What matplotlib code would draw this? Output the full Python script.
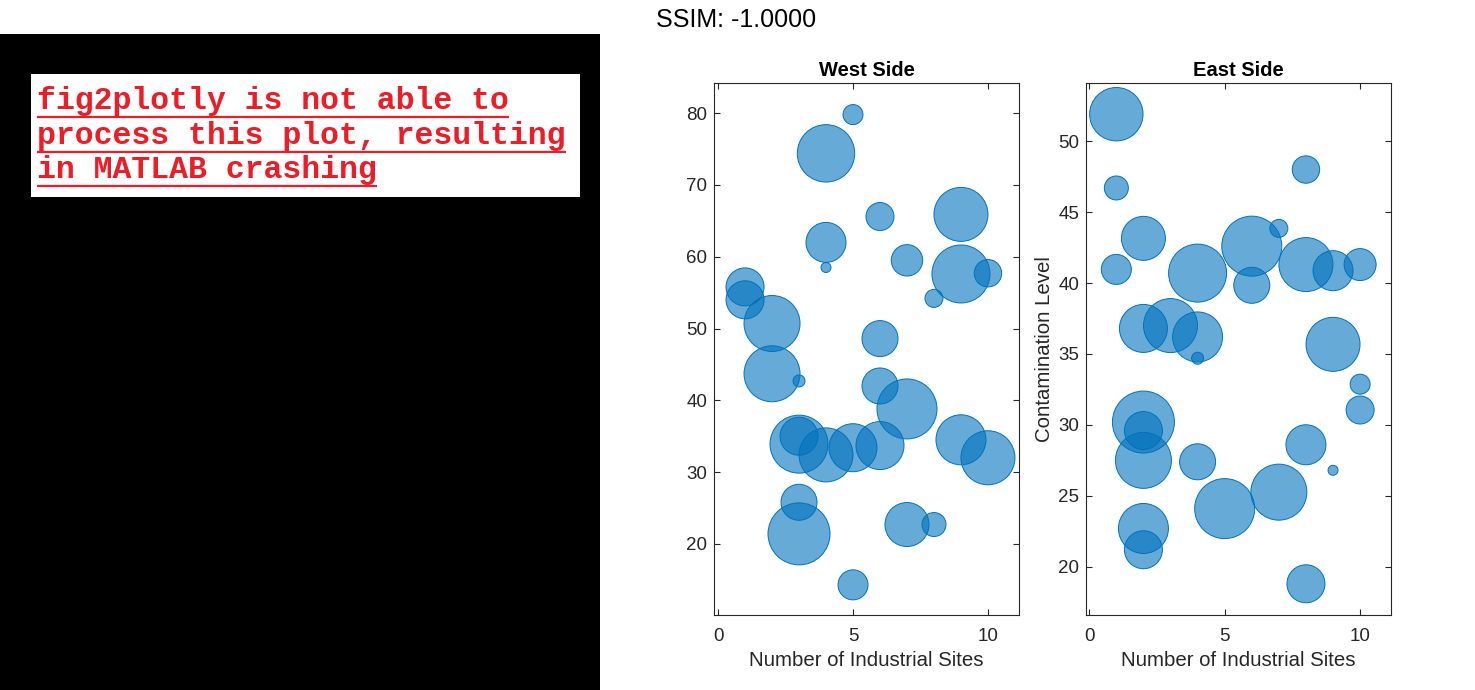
import matplotlib
matplotlib.use("Agg")
import matplotlib.pyplot as plt
from matplotlib.patches import Rectangle
import numpy as np

plt.rcParams['font.family'] = ['Liberation Sans', 'DejaVu Sans']

# ---------------- data ----------------
west_sites = [5, 4, 6, 9, 4, 4, 7, 9, 10, 8, 1, 1, 2, 6, 2, 3, 6, 7, 3, 3, 4, 5, 6, 9, 10, 3, 3, 7, 8, 5]
west_level = [79.8, 74.4, 65.6, 65.9, 62.0, 58.5, 59.5, 57.6, 57.7, 54.2, 55.8, 54.0, 50.7, 48.6, 43.7,
              42.7, 42.0, 38.8, 33.9, 35.0, 32.4, 33.4, 33.7, 34.5, 32.0, 25.8, 21.4, 22.7, 22.7, 14.3]
west_size = [10, 28.7, 14, 27, 20, 5, 15.7, 29, 13.7, 9, 19, 19, 28, 18, 28,
             6, 18, 30, 29, 19, 27, 24, 24, 25, 27, 18, 31, 22, 12, 15]

east_sites = [1, 1, 8, 2, 6, 7, 1, 4, 6, 8, 9, 10, 2, 3, 4, 9, 4, 10, 10, 2, 2, 2, 4, 8, 9, 7, 5, 2, 2, 8]
east_level = [51.9, 46.7, 48.0, 43.15, 42.6, 43.85, 40.96, 40.7, 39.84, 41.3, 40.87, 41.3, 36.8, 37.0, 36.2,
              35.68, 34.7, 32.87, 31.05, 30.2, 29.6, 27.5, 27.4, 28.6, 26.8, 25.26, 24.1, 22.7, 21.2, 18.8]
east_size = [26.7, 12, 13.7, 22, 30, 9, 15, 29, 18, 27, 20, 16, 24, 27, 25,
             27, 6, 10, 14, 31, 19, 28, 18, 20, 5, 28, 30, 25, 19, 19]

titles = ["West Side", "East Side"]
xlabel = "Number of Industrial Sites"
ylabel = "Contamination Level"
xticks = [0, 5, 10]
west_yticks = [20, 30, 40, 50, 60, 70, 80]
east_yticks = [20, 25, 30, 35, 40, 45, 50]
message_lines = ["fig2plotly is not able to", "process this plot, resulting", "in MATLAB crashing"]
ssim_text = "SSIM: -1.0000"

# ---------------- style ----------------
DPI = 100
W, H = 1475, 690
blue = np.array([0, 114, 189]) / 255.0
txt = (0.15, 0.15, 0.15)

# bubble size mapping (MATLAB-like: linear in diameter between limits)
SMIN, SMAX = 5.0, 31.0
DMIN, DMAX = 2 * 5 * 72 / DPI, 2 * 31 * 72 / DPI  # diameters in points


def bubble_area(vals):
    v = np.asarray(vals, float)
    d = DMIN + (v - SMIN) / (SMAX - SMIN) * (DMAX - DMIN)
    return d ** 2


fig = plt.figure(figsize=(W / DPI, H / DPI), dpi=DPI)
fig.patch.set_facecolor('white')

# ---------- left black panel with message ----------
axm = fig.add_axes([0, 0, 600 / W, (H - 34) / H])
axm.set_xlim(0, 600)
axm.set_ylim(690, 34)
axm.set_facecolor('black')
axm.set_xticks([])
axm.set_yticks([])
for s in axm.spines.values():
    s.set_visible(False)
axm.add_patch(Rectangle((31, 74), 549, 123, facecolor='white', edgecolor='none'))
red = (0.93, 0.11, 0.15)
baselines = [109, 144, 178]
fig.canvas.draw()
renderer = fig.canvas.get_renderer()
for line, yb in zip(message_lines, baselines):
    t = axm.text(37, yb, line, family='Liberation Mono', fontweight='bold', fontsize=22.7,
                 color=red, va='baseline', ha='left')
    bb = t.get_window_extent(renderer=renderer)
    x0 = axm.transData.inverted().transform((bb.x0, 0))[0]
    x1 = axm.transData.inverted().transform((bb.x1, 0))[0]
    axm.plot([x0, x1], [yb + 8, yb + 8], color=red, lw=1.6, solid_capstyle='butt')

# ---------- SSIM text ----------
fig.text(736 / W, 1 - 20 / H, ssim_text, fontsize=18, ha='center', va='center', color='black')

# ---------- bubble axes ----------
panels = [
    (714, west_sites, west_level, west_size, (-0.15, 11.15), (10.1, 84.2), west_yticks, False),
    (1086, east_sites, east_level, east_size, (-0.12, 11.14), (16.6, 54.1), east_yticks, True),
]
for (left_px, xs, ys, ss, xl, yl, yt, show_ylabel), title in zip(panels, titles):
    ax = fig.add_axes([left_px / W, 1 - 615 / H, 305 / W, 532 / H])
    face = list(blue) + [0.6]
    edge = list(blue) + [1.0]
    order = np.argsort(ss)[::-1]
    ax.scatter(np.asarray(xs)[order], np.asarray(ys)[order], s=bubble_area(np.asarray(ss)[order]),
               facecolors=[face], edgecolors=[edge], linewidths=0.7, zorder=3)
    ax.set_xlim(*xl)
    ax.set_ylim(*yl)
    ax.set_xticks(xticks)
    ax.set_yticks(yt)
    ax.tick_params(direction='in', length=4, width=0.8, top=True, right=True,
                   labelsize=13.5, colors=txt, pad=5)
    ax.tick_params(axis='x', pad=9.5)
    for s in ax.spines.values():
        s.set_color(txt)
        s.set_linewidth(0.8)
    ax.set_title(title, fontsize=14.5, fontweight='bold', color='black', pad=5)
    ax.set_xlabel(xlabel, fontsize=14.7, color=txt, labelpad=4.5)
    if show_ylabel:
        ax.set_ylabel(ylabel, fontsize=14.7, color=txt, labelpad=3)

fig.savefig("out.png", dpi=DPI)
